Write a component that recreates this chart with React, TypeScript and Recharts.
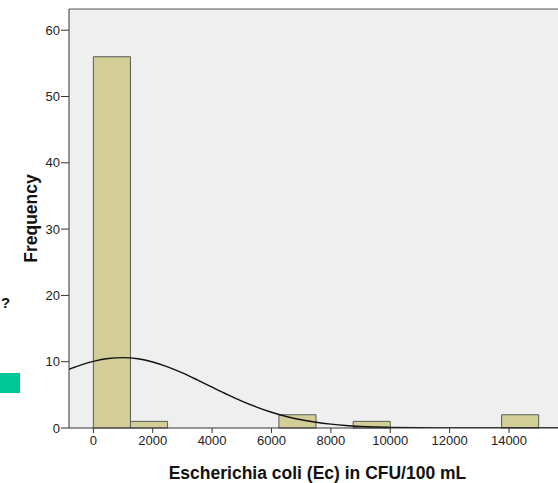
import { ComposedChart, Line, XAxis, YAxis, ReferenceArea, ReferenceLine, CartesianGrid } from "recharts";

const BAR_FILL = "#d3ce98";
const AXIS_COLOR = "#333333";

// histogram bins (CFU/100 mL) and counts
const binStart = [0, 1250, 6250, 8750, 13750];
const binEnd = [1250, 2500, 7500, 10000, 15000];
const binCount = [56, 1, 2, 1, 2];

// normal curve
const curveX = [
	-820, -500, 0, 500, 1000, 1500, 2000, 2500, 3000, 3500, 4000, 4500, 5000, 5500, 6000, 6500, 7000, 7500, 8000,
	8500, 9000, 9500, 10000, 11000, 12000, 13000, 14000, 15000, 15650,
];
const curveY = [
	8.86, 9.38, 10.06, 10.49, 10.62, 10.44, 9.96, 9.23, 8.31, 7.26, 6.16, 5.08, 4.06, 3.16, 2.38, 1.74, 1.24, 0.86,
	0.58, 0.37, 0.24, 0.15, 0.09, 0.03, 0.01, 0, 0, 0, 0,
];

const xTicks = [0, 2000, 4000, 6000, 8000, 10000, 12000, 14000];
const yTicks = [0, 10, 20, 30, 40, 50, 60];

const curveData = curveX.map((x, i) => ({ x, y: curveY[i] }));

const FONT = "'Liberation Sans', Arial, sans-serif";

export default function App() {
	return (
		<div style={{ position: "absolute", left: 0, top: 0, width: 558, height: 483, background: "#fff", fontFamily: FONT }}>
			<ComposedChart data={curveData} height={483} margin={{ top: 9, right: 0, left: 0, bottom: 0 }} width={558}>
				<CartesianGrid fill="#efefef" horizontal={false} stroke="none" vertical={false} />

				<XAxis
					allowDataOverflow
					axisLine={{ stroke: AXIS_COLOR }}
					dataKey="x"
					domain={[-820, 15650]}
					height={55}
					tick={{ fill: "#222", fontSize: 13, fontFamily: FONT }}
					tickLine={{ stroke: AXIS_COLOR }}
					tickMargin={3}
					tickSize={5}
					ticks={xTicks}
					type="number"
					label={{
						value: "Escherichia coli (Ec) in CFU/100 mL",
						position: "insideBottom",
						offset: 4,
						dx: 4,
						style: { fill: "#111", fontSize: 17.5, fontWeight: "bold", fontFamily: FONT },
					}}
				/>

				<YAxis
					allowDataOverflow
					axisLine={{ stroke: AXIS_COLOR }}
					domain={[0, 63.2]}
					tick={{ fill: "#222", fontSize: 13, fontFamily: FONT }}
					tickLine={{ stroke: AXIS_COLOR }}
					tickMargin={1}
					tickSize={8}
					ticks={yTicks}
					type="number"
					width={69}
					label={({ viewBox }: any) => (
						<text
							fill="#111"
							fontFamily={FONT}
							fontSize={17.5}
							fontWeight="bold"
							textAnchor="middle"
							dominantBaseline="central"
							transform={`translate(31, ${viewBox.y + viewBox.height / 2}) rotate(-90)`}
						>
							Frequency
						</text>
					)}
				/>

				<ReferenceLine stroke="#555" y={63.2} ifOverflow="extendDomain" />

				{binStart.map((start, i) => (
					<ReferenceArea
						key={`bin-${i}`}
						fill={BAR_FILL}
						fillOpacity={1}
						stroke="#5a5a5a"
						strokeWidth={1}
						x1={start}
						x2={binEnd[i]}
						y1={0}
						y2={binCount[i]}
					/>
				))}

				<Line
					dataKey="y"
					dot={false}
					isAnimationActive={false}
					stroke="#111"
					strokeWidth={1.4}
					type="monotone"
				/>
			</ComposedChart>

			<div style={{ position: "absolute", left: 0, top: 373, width: 20, height: 20, background: "#00c896" }} />
			<div
				style={{
					position: "absolute",
					left: 1,
					top: 294,
					fontSize: 15,
					fontWeight: "bold",
					lineHeight: "18px",
					color: "#111",
				}}
			>
				?
			</div>
		</div>
	);
}
